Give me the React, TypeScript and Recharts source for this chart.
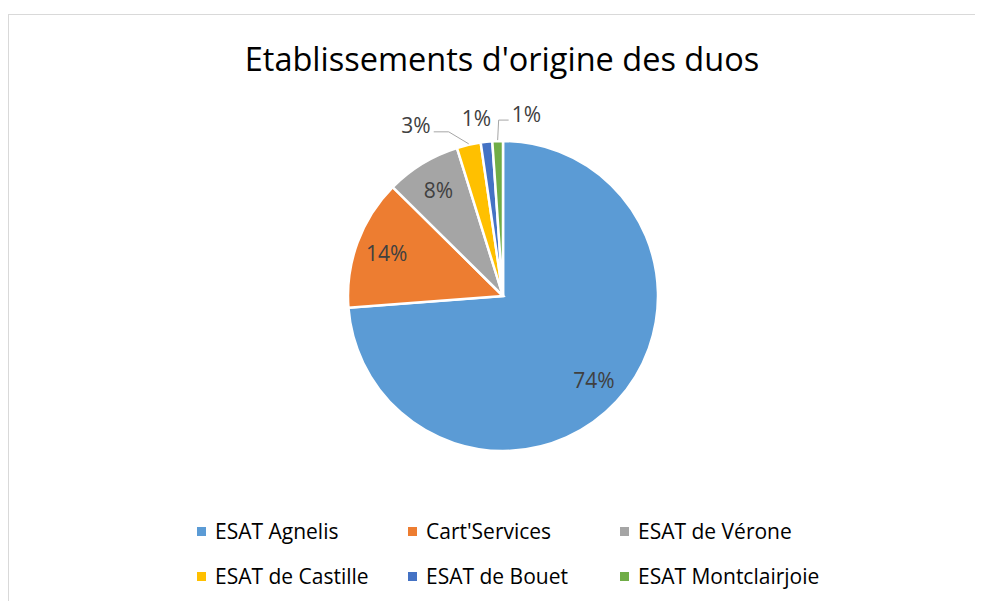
import React from 'react';
import { PieChart, Pie, Cell, Legend } from 'recharts';

const categories = ['ESAT Agnelis', "Cart'Services", 'ESAT de Vérone', 'ESAT de Castille', 'ESAT de Bouet', 'ESAT Montclairjoie'];
const shares = [73.8, 13.6, 7.8, 2.5, 1.2, 1.1];
const colors = ['#5B9BD5', '#ED7D31', '#A5A5A5', '#FFC000', '#4472C4', '#70AD47'];
const title = "Etablissements d'origine des duos";

const data = categories.map((name, i) => ({ name, value: shares[i] }));

const FONT = '"Open Sans", sans-serif';
const RAD = Math.PI / 180;

const renderLabel = (props: any) => {
  const { cx, cy, midAngle, outerRadius, percent, index } = props;
  const txt = `${Math.round(percent * 100)}%`;
  const cos = Math.cos(-midAngle * RAD);
  const sin = Math.sin(-midAngle * RAD);
  const common = { fill: '#404040', fontSize: 21, fontFamily: FONT, dominantBaseline: 'central' as const };
  if (index < 3) {
    const r = outerRadius * 0.8;
    return (
      <text key={`l${index}`} x={cx + r * cos} y={cy + r * sin} textAnchor="middle" {...common}>
        {txt}
      </text>
    );
  }
  const px = cx + outerRadius * cos;
  const py = cy + outerRadius * sin;
  if (index === 3) {
    return (
      <g key={`l${index}`}>
        <path d={`M${px},${py - 1} L${px - 20},${py - 13} L${px - 35},${py - 13}`} stroke="#A6A6A6" strokeWidth={1} fill="none" />
        <text x={px - 38} y={py - 20} textAnchor="end" {...common}>{txt}</text>
      </g>
    );
  }
  if (index === 4) {
    return (
      <text key={`l${index}`} x={px - 10} y={py - 24} textAnchor="middle" {...common}>{txt}</text>
    );
  }
  return (
    <g key={`l${index}`}>
      <path d={`M${px},${py - 1} L${px + 1},${py - 21} L${px + 11},${py - 21}`} stroke="#A6A6A6" strokeWidth={1} fill="none" />
      <text x={px + 14} y={py - 27} textAnchor="start" {...common}>{txt}</text>
    </g>
  );
};

const legendCols = [189, 400, 612];
const legendRows = [523, 568];

const renderLegend = () => (
  <div style={{ position: 'relative', width: 975, height: 593 }}>
    {categories.map((name, i) => (
      <div
        key={name}
        style={{
          position: 'absolute',
          left: legendCols[i % 3],
          top: legendRows[Math.floor(i / 3)] - 14,
          height: 28,
          display: 'flex',
          alignItems: 'center',
          fontFamily: FONT,
          fontSize: 21,
          color: '#000',
          whiteSpace: 'nowrap',
        }}
      >
        <span style={{ display: 'inline-block', width: 9, height: 9, background: colors[i], marginRight: 9 }} />
        <span>{name}</span>
      </div>
    ))}
  </div>
);

export default function App() {
  return (
    <div style={{ position: 'relative', width: 975, height: 593, overflow: 'hidden', background: '#fff' }}>
      <div style={{ position: 'absolute', left: 0, top: 6, width: 990, height: 700, border: '1px solid #D9D9D9', boxSizing: 'border-box' }} />
      <div
        style={{
          position: 'absolute',
          left: 494,
          top: 30,
          transform: 'translateX(-50%)',
          whiteSpace: 'nowrap',
          fontFamily: FONT,
          fontSize: 32.5,
          color: '#000',
          lineHeight: '42px',
        }}
      >
        {title}
      </div>
      <PieChart width={975} height={593} margin={{ top: 0, right: 0, bottom: 0, left: 0 }} style={{ position: 'absolute', left: 0, top: 0 }}>
        <Pie
          data={data}
          dataKey="value"
          nameKey="name"
          cx={495}
          cy={288}
          outerRadius={155}
          startAngle={90}
          endAngle={-270}
          stroke="#FFFFFF"
          strokeWidth={2.5}
          isAnimationActive={false}
          label={renderLabel}
          labelLine={false}
        >
          {data.map((d, i) => (
            <Cell key={d.name} fill={colors[i]} />
          ))}
        </Pie>
        <Legend
          content={renderLegend}
          wrapperStyle={{ position: 'absolute', left: 0, top: 0, width: 975, height: 593, bottom: 'auto' }}
        />
      </PieChart>
    </div>
  );
}
